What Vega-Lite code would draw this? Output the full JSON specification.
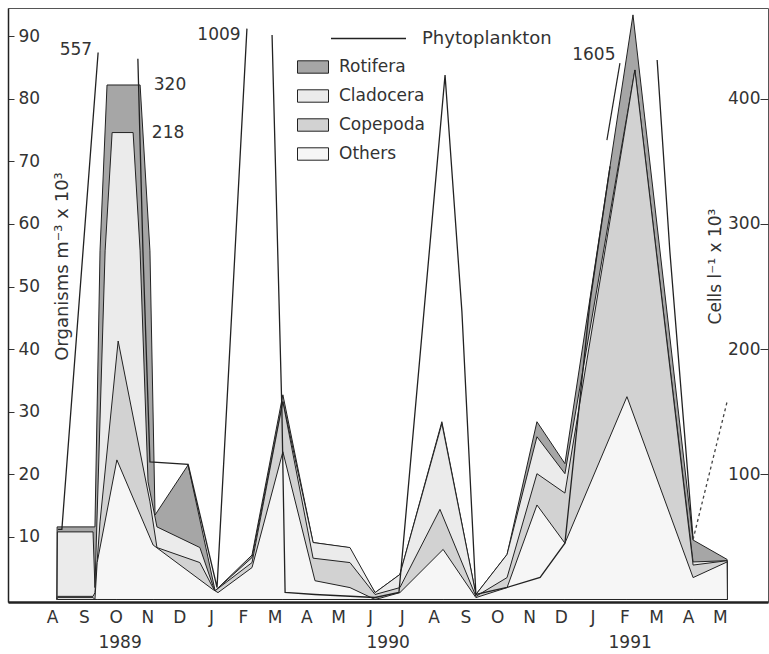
{
  "$schema": "https://vega.github.io/schema/vega-lite/v6.json",
  "width": 760,
  "height": 594,
  "autosize": {"type": "none"},
  "padding": {"left": 8, "top": 8, "right": 1, "bottom": 52},
  "background": "white",
  "config": {
    "font": "DejaVu Sans",
    "view": {"stroke": "#555", "strokeWidth": 1},
    "axis": {"grid": false, "labelColor": "#333", "titleColor": "#333", "labelFontSize": 17, "titleFontSize": 17, "titleFontWeight": "normal"},
    "legend": {"padding": 0, "labelColor": "#333", "labelFontSize": 17, "labelFont": "DejaVu Sans"}
  },
  "datasets": {
    "zoo": [
      {"group": "Rotifera", "m": 0.15, "v": 0},
      {"group": "Rotifera", "m": 0.16, "v": 11.6},
      {"group": "Rotifera", "m": 1.35, "v": 11.6},
      {"group": "Rotifera", "m": 1.51, "v": 55.7},
      {"group": "Rotifera", "m": 1.73, "v": 82.2},
      {"group": "Rotifera", "m": 2.77, "v": 82.2},
      {"group": "Rotifera", "m": 3.08, "v": 55.7},
      {"group": "Rotifera", "m": 3.24, "v": 13.5},
      {"group": "Rotifera", "m": 4.28, "v": 21.5},
      {"group": "Rotifera", "m": 5.13, "v": 1.4},
      {"group": "Rotifera", "m": 6.29, "v": 7.1},
      {"group": "Rotifera", "m": 7.26, "v": 32.7},
      {"group": "Rotifera", "m": 8.21, "v": 9.1},
      {"group": "Rotifera", "m": 9.31, "v": 8.3},
      {"group": "Rotifera", "m": 10.16, "v": 1.1},
      {"group": "Rotifera", "m": 10.94, "v": 4.0},
      {"group": "Rotifera", "m": 12.26, "v": 28.4},
      {"group": "Rotifera", "m": 13.33, "v": 0.8},
      {"group": "Rotifera", "m": 14.31, "v": 7.2},
      {"group": "Rotifera", "m": 15.25, "v": 28.4},
      {"group": "Rotifera", "m": 16.13, "v": 21.7},
      {"group": "Rotifera", "m": 18.27, "v": 93.4},
      {"group": "Rotifera", "m": 20.16, "v": 9.5},
      {"group": "Rotifera", "m": 21.23, "v": 6.4},
      {"group": "Rotifera", "m": 21.24, "v": 0},

      {"group": "Cladocera", "m": 0.16, "v": 0},
      {"group": "Cladocera", "m": 0.17, "v": 10.8},
      {"group": "Cladocera", "m": 1.29, "v": 10.8},
      {"group": "Cladocera", "m": 1.35, "v": 1.9},
      {"group": "Cladocera", "m": 1.67, "v": 55.7},
      {"group": "Cladocera", "m": 1.89, "v": 74.6},
      {"group": "Cladocera", "m": 2.55, "v": 74.6},
      {"group": "Cladocera", "m": 2.77, "v": 55.7},
      {"group": "Cladocera", "m": 3.02, "v": 18.8},
      {"group": "Cladocera", "m": 3.30, "v": 11.6},
      {"group": "Cladocera", "m": 4.65, "v": 8.3},
      {"group": "Cladocera", "m": 5.06, "v": 2.2},
      {"group": "Cladocera", "m": 5.13, "v": 1.4},
      {"group": "Cladocera", "m": 6.29, "v": 6.7},
      {"group": "Cladocera", "m": 7.26, "v": 31.6},
      {"group": "Cladocera", "m": 8.21, "v": 9.1},
      {"group": "Cladocera", "m": 9.37, "v": 8.3},
      {"group": "Cladocera", "m": 10.16, "v": 1.1},
      {"group": "Cladocera", "m": 10.94, "v": 4.0},
      {"group": "Cladocera", "m": 12.26, "v": 28.1},
      {"group": "Cladocera", "m": 13.33, "v": 0.8},
      {"group": "Cladocera", "m": 14.31, "v": 7.2},
      {"group": "Cladocera", "m": 15.25, "v": 26.0},
      {"group": "Cladocera", "m": 16.13, "v": 20.1},
      {"group": "Cladocera", "m": 18.33, "v": 84.6},
      {"group": "Cladocera", "m": 20.16, "v": 6.0},
      {"group": "Cladocera", "m": 21.23, "v": 6.2},
      {"group": "Cladocera", "m": 21.24, "v": 0},

      {"group": "Copepoda", "m": 0.16, "v": 0},
      {"group": "Copepoda", "m": 0.17, "v": 0.5},
      {"group": "Copepoda", "m": 1.29, "v": 0.5},
      {"group": "Copepoda", "m": 1.35, "v": 1.1},
      {"group": "Copepoda", "m": 1.51, "v": 12.4},
      {"group": "Copepoda", "m": 2.08, "v": 41.3},
      {"group": "Copepoda", "m": 3.08, "v": 15.6},
      {"group": "Copepoda", "m": 3.30, "v": 8.3},
      {"group": "Copepoda", "m": 4.65, "v": 5.9},
      {"group": "Copepoda", "m": 5.06, "v": 1.9},
      {"group": "Copepoda", "m": 5.13, "v": 1.4},
      {"group": "Copepoda", "m": 6.29, "v": 5.9},
      {"group": "Copepoda", "m": 7.26, "v": 31.6},
      {"group": "Copepoda", "m": 8.21, "v": 6.6},
      {"group": "Copepoda", "m": 9.37, "v": 5.9},
      {"group": "Copepoda", "m": 10.16, "v": 0.8},
      {"group": "Copepoda", "m": 10.94, "v": 1.9},
      {"group": "Copepoda", "m": 12.20, "v": 14.4},
      {"group": "Copepoda", "m": 13.33, "v": 0.5},
      {"group": "Copepoda", "m": 14.31, "v": 3.5},
      {"group": "Copepoda", "m": 15.25, "v": 20.1},
      {"group": "Copepoda", "m": 16.13, "v": 17.0},
      {"group": "Copepoda", "m": 18.33, "v": 84.6},
      {"group": "Copepoda", "m": 20.16, "v": 5.5},
      {"group": "Copepoda", "m": 21.23, "v": 6.2},
      {"group": "Copepoda", "m": 21.24, "v": 0},

      {"group": "Others", "m": 0.16, "v": 0},
      {"group": "Others", "m": 0.17, "v": 0.3},
      {"group": "Others", "m": 1.29, "v": 0.3},
      {"group": "Others", "m": 1.35, "v": 0},
      {"group": "Others", "m": 1.42, "v": 5.9},
      {"group": "Others", "m": 2.04, "v": 22.3},
      {"group": "Others", "m": 3.18, "v": 8.7},
      {"group": "Others", "m": 5.06, "v": 1.6},
      {"group": "Others", "m": 5.22, "v": 1.1},
      {"group": "Others", "m": 6.29, "v": 5.1},
      {"group": "Others", "m": 7.26, "v": 23.6},
      {"group": "Others", "m": 8.27, "v": 3.0},
      {"group": "Others", "m": 9.37, "v": 1.9},
      {"group": "Others", "m": 10.16, "v": 0},
      {"group": "Others", "m": 10.31, "v": 0.2},
      {"group": "Others", "m": 10.94, "v": 1.1},
      {"group": "Others", "m": 12.30, "v": 8.0},
      {"group": "Others", "m": 13.33, "v": 0.3},
      {"group": "Others", "m": 14.31, "v": 1.9},
      {"group": "Others", "m": 15.25, "v": 15.1},
      {"group": "Others", "m": 16.13, "v": 9.0},
      {"group": "Others", "m": 18.08, "v": 32.4},
      {"group": "Others", "m": 20.16, "v": 3.5},
      {"group": "Others", "m": 21.23, "v": 6.0},
      {"group": "Others", "m": 21.24, "v": 0}
    ],
    "phyto": [
      {"m": 0.19, "cells": 56},
      {"m": 0.31, "cells": 56},
      {"m": 1.45, "cells": 437},
      {"m": 2.0, "cells": null},
      {"m": 2.70, "cells": 432},
      {"m": 2.86, "cells": 278},
      {"m": 3.08, "cells": 110},
      {"m": 4.28, "cells": 108},
      {"m": 5.19, "cells": 9.6},
      {"m": 6.13, "cells": 456},
      {"m": 6.5, "cells": null},
      {"m": 6.92, "cells": 451},
      {"m": 7.23, "cells": 150},
      {"m": 7.33, "cells": 5.6},
      {"m": 8.27, "cells": 4},
      {"m": 10.16, "cells": 1.6},
      {"m": 10.91, "cells": 5.6},
      {"m": 12.36, "cells": 419},
      {"m": 12.89, "cells": 230},
      {"m": 13.33, "cells": 4},
      {"m": 14.31, "cells": 9.6},
      {"m": 15.35, "cells": 17.6},
      {"m": 16.13, "cells": 45},
      {"m": 16.92, "cells": 238},
      {"m": 17.55, "cells": 346},
      {"m": 18.5, "cells": null},
      {"m": 19.03, "cells": 431},
      {"m": 19.43, "cells": 278},
      {"m": 20.16, "cells": 48},
      {"m": 21.23, "cells": 158}
    ],
    "labels": [
      {"m": 0.75, "v": 87.8, "text": "557"},
      {"m": 5.25, "v": 90.2, "text": "1009"},
      {"m": 3.71, "v": 82.2, "text": "320"},
      {"m": 3.65, "v": 74.6, "text": "218"},
      {"m": 17.04, "v": 87.0, "text": "1605"},
      {"m": 2.14, "v": -6.9, "text": "1989"},
      {"m": 10.57, "v": -6.9, "text": "1990"},
      {"m": 18.18, "v": -6.9, "text": "1991"}
    ],
    "arrow": [
      {"m": 17.86, "v": 85.7},
      {"m": 17.45, "v": 73.4}
    ]
  },
  "encoding": {
    "x": {
      "field": "m",
      "type": "quantitative",
      "scale": {"domain": [-1.384, 22.516], "nice": false, "zero": false},
      "axis": {
        "orient": "bottom",
        "title": null,
        "values": [0,1,2,3,4,5,6,7,8,9,10,11,12,13,14,15,16,17,18,19,20,21],
        "labelExpr": "['A','S','O','N','D','J','F','M','A','M','J','J','A','S','O','N','D','J','F','M','A','M'][datum.value]",
        "ticks": false,
        "labelPadding": 7,
        "domainColor": "#222",
        "domainWidth": 2.5
      }
    }
  },
  "layer": [
    {
      "encoding": {
        "y": {
          "field": "v",
          "type": "quantitative",
          "stack": null,
          "scale": {"domain": [-0.4, 94.5], "nice": false, "zero": false},
          "axis": {
            "orient": "left",
            "values": [10,20,30,40,50,60,70,80,90],
            "title": "Organisms m⁻³ x 10³",
            "tickSize": -6,
            "tickColor": "#333",
            "labelAlign": "left",
            "labelBaseline": "middle",
            "labelPadding": -4,
            "domainColor": "#222",
            "domainWidth": 1.5,
            "titleX": 54,
            "titleY": 258,
            "titleFontSize": 18,
            "titleAngle": -90,
            "titleAlign": "center",
            "titleBaseline": "middle"
          }
        }
      },
      "layer": [
        {
          "data": {"name": "zoo"},
          "transform": [{"filter": "datum.group === 'Rotifera'"}],
          "mark": {"type": "area", "stroke": "#222", "strokeWidth": 1, "clip": true},
          "encoding": {
            "fill": {
              "field": "group",
              "type": "nominal",
              "scale": {"domain": ["Rotifera", "Cladocera", "Copepoda", "Others"], "range": ["#a6a6a6", "#ebebeb", "#d2d2d2", "#f6f6f6"]},
              "legend": {
                "orient": "none",
                "legendX": 289,
                "legendY": 43,
                "title": null,
                "symbolType": "M-1,-0.4H1V0.4H-1Z",
                "symbolSize": 961,
                "symbolStrokeColor": "#222",
                "symbolStrokeWidth": 1,
                "symbolOpacity": 1,
                "labelOffset": 10,
                "rowPadding": 4
              }
            }
          }
        },
        {
          "data": {"name": "zoo"},
          "transform": [{"filter": "datum.group === 'Cladocera'"}],
          "mark": {"type": "area", "stroke": "#222", "strokeWidth": 1, "clip": true},
          "encoding": {"fill": {"field": "group", "type": "nominal"}}
        },
        {
          "data": {"name": "zoo"},
          "transform": [{"filter": "datum.group === 'Copepoda'"}],
          "mark": {"type": "area", "stroke": "#222", "strokeWidth": 1, "clip": true},
          "encoding": {"fill": {"field": "group", "type": "nominal"}}
        },
        {
          "data": {"name": "zoo"},
          "transform": [{"filter": "datum.group === 'Others'"}],
          "mark": {"type": "area", "stroke": "#222", "strokeWidth": 1, "clip": true},
          "encoding": {"fill": {"field": "group", "type": "nominal"}}
        },
        {
          "data": {"name": "labels"},
          "mark": {"type": "text", "fontSize": 17, "color": "#333", "align": "center", "baseline": "middle"},
          "encoding": {"text": {"field": "text"}}
        },
        {
          "data": {"name": "arrow"},
          "mark": {"type": "line", "color": "#222", "strokeWidth": 1.2},
          "encoding": {}
        }
      ]
    },
    {
      "data": {"name": "phyto"},
      "encoding": {
        "y": {
          "field": "cells",
          "type": "quantitative",
          "scale": {"domain": [-2, 472.5], "nice": false, "zero": false},
          "axis": {
            "orient": "right",
            "values": [100, 200, 300, 400],
            "title": "Cells l⁻¹ x 10³",
            "tickSize": -8,
            "tickColor": "#333",
            "labelAlign": "right",
            "labelBaseline": "middle",
            "labelPadding": 0,
            "domain": false,
            "titleX": -53,
            "titleY": 258,
            "titleAngle": -90,
            "titleAlign": "center",
            "titleBaseline": "middle"
          }
        }
      },
      "layer": [
        {
          "transform": [{"filter": "datum.m <= 20.16"}],
          "mark": {"type": "line", "strokeWidth": 1.3, "clip": true, "invalid": "break-paths-filter-domains"},
          "encoding": {
            "stroke": {
              "datum": "Phytoplankton",
              "type": "nominal",
              "scale": {"range": ["#222"]},
              "legend": {
                "orient": "none",
                "legendX": 322,
                "legendY": -8,
                "title": null,
                "symbolType": "stroke",
                "symbolSize": 5625,
                "symbolStrokeWidth": 1.3,
                "labelOffset": 15,
                "labelFontSize": 18
              }
            }
          }
        },
        {
          "transform": [{"filter": "datum.m >= 20.16"}],
          "mark": {"type": "line", "color": "#444", "strokeWidth": 1.3, "strokeDash": [3, 3], "clip": true},
          "encoding": {}
        }
      ]
    }
  ],
  "resolve": {"scale": {"y": "independent"}}
}
